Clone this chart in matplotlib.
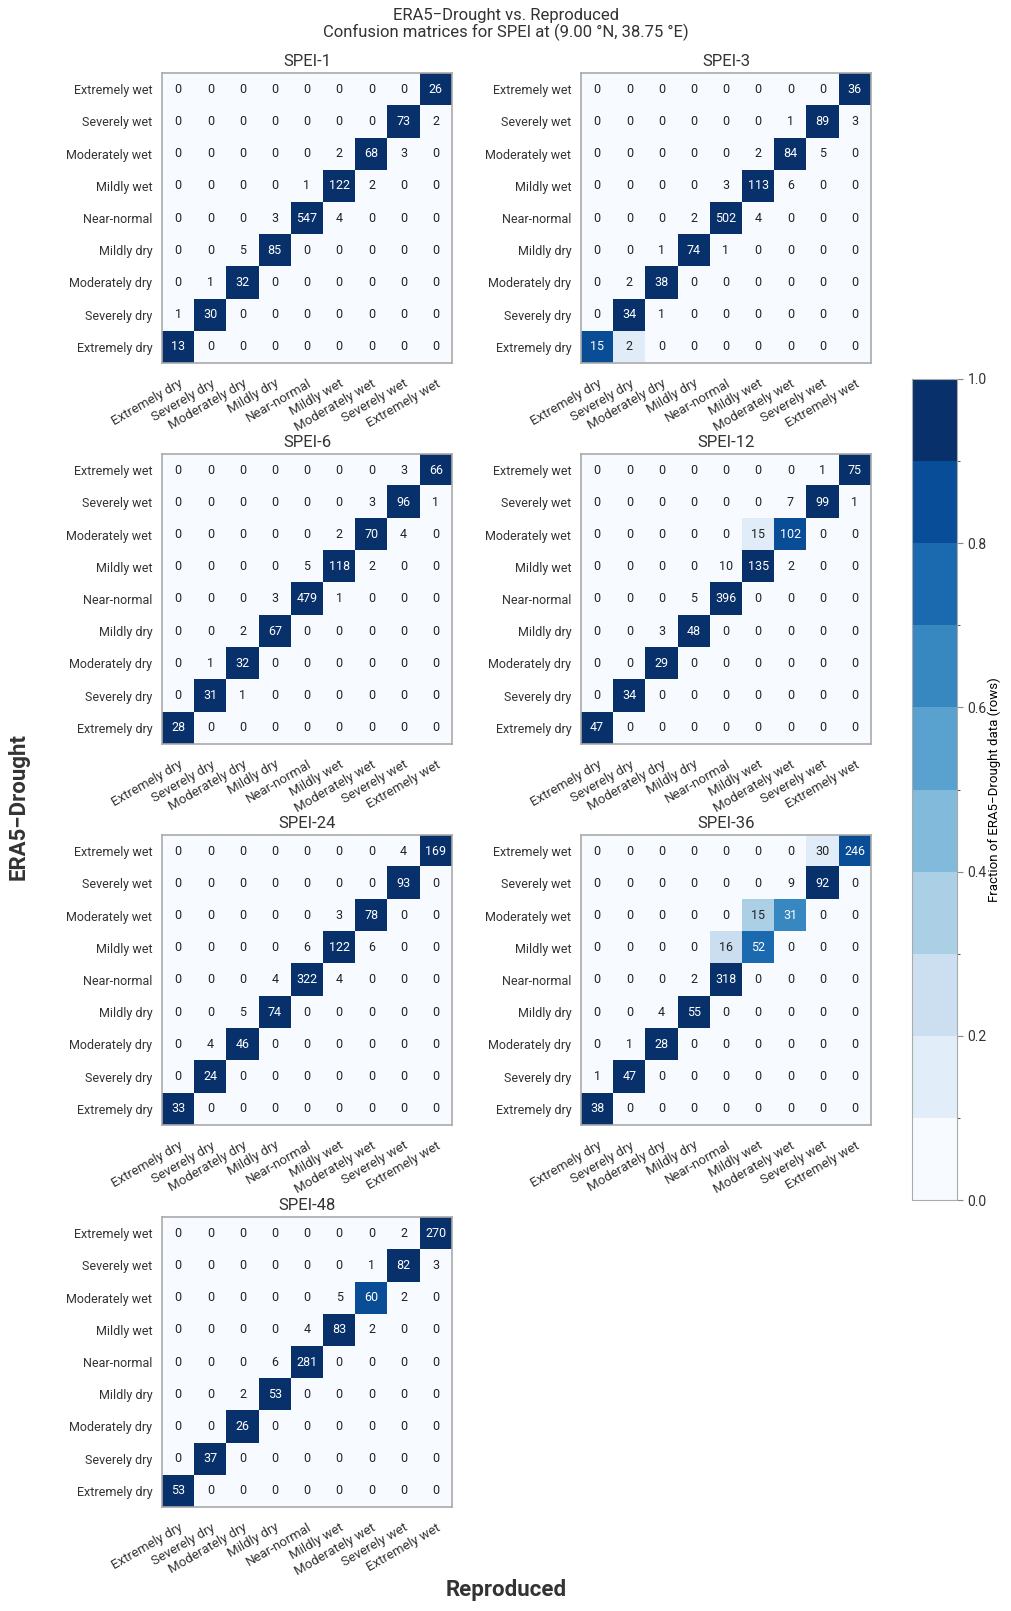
import numpy as np
import matplotlib
matplotlib.use("Agg")
import matplotlib.pyplot as plt
from matplotlib.colors import BoundaryNorm
import matplotlib.cm as cm

plt.rcParams['font.family'] = ['Roboto', 'DejaVu Sans']
plt.rcParams['text.color'] = '#333333'
plt.rcParams['xtick.color'] = '#333333'
plt.rcParams['ytick.color'] = '#333333'

categories = ["Extremely dry", "Severely dry", "Moderately dry", "Mildly dry",
              "Near-normal", "Mildly wet", "Moderately wet", "Severely wet",
              "Extremely wet"]

# rows listed top (Extremely wet) -> bottom (Extremely dry), cols Extremely dry -> Extremely wet
spei_1 = [[0, 0, 0, 0, 0, 0, 0, 0, 26],
          [0, 0, 0, 0, 0, 0, 0, 73, 2],
          [0, 0, 0, 0, 0, 2, 68, 3, 0],
          [0, 0, 0, 0, 1, 122, 2, 0, 0],
          [0, 0, 0, 3, 547, 4, 0, 0, 0],
          [0, 0, 5, 85, 0, 0, 0, 0, 0],
          [0, 1, 32, 0, 0, 0, 0, 0, 0],
          [1, 30, 0, 0, 0, 0, 0, 0, 0],
          [13, 0, 0, 0, 0, 0, 0, 0, 0]]

spei_3 = [[0, 0, 0, 0, 0, 0, 0, 0, 36],
          [0, 0, 0, 0, 0, 0, 1, 89, 3],
          [0, 0, 0, 0, 0, 2, 84, 5, 0],
          [0, 0, 0, 0, 3, 113, 6, 0, 0],
          [0, 0, 0, 2, 502, 4, 0, 0, 0],
          [0, 0, 1, 74, 1, 0, 0, 0, 0],
          [0, 2, 38, 0, 0, 0, 0, 0, 0],
          [0, 34, 1, 0, 0, 0, 0, 0, 0],
          [15, 2, 0, 0, 0, 0, 0, 0, 0]]

spei_6 = [[0, 0, 0, 0, 0, 0, 0, 3, 66],
          [0, 0, 0, 0, 0, 0, 3, 96, 1],
          [0, 0, 0, 0, 0, 2, 70, 4, 0],
          [0, 0, 0, 0, 5, 118, 2, 0, 0],
          [0, 0, 0, 3, 479, 1, 0, 0, 0],
          [0, 0, 2, 67, 0, 0, 0, 0, 0],
          [0, 1, 32, 0, 0, 0, 0, 0, 0],
          [0, 31, 1, 0, 0, 0, 0, 0, 0],
          [28, 0, 0, 0, 0, 0, 0, 0, 0]]

spei_12 = [[0, 0, 0, 0, 0, 0, 0, 1, 75],
           [0, 0, 0, 0, 0, 0, 7, 99, 1],
           [0, 0, 0, 0, 0, 15, 102, 0, 0],
           [0, 0, 0, 0, 10, 135, 2, 0, 0],
           [0, 0, 0, 5, 396, 0, 0, 0, 0],
           [0, 0, 3, 48, 0, 0, 0, 0, 0],
           [0, 0, 29, 0, 0, 0, 0, 0, 0],
           [0, 34, 0, 0, 0, 0, 0, 0, 0],
           [47, 0, 0, 0, 0, 0, 0, 0, 0]]

spei_24 = [[0, 0, 0, 0, 0, 0, 0, 4, 169],
           [0, 0, 0, 0, 0, 0, 0, 93, 0],
           [0, 0, 0, 0, 0, 3, 78, 0, 0],
           [0, 0, 0, 0, 6, 122, 6, 0, 0],
           [0, 0, 0, 4, 322, 4, 0, 0, 0],
           [0, 0, 5, 74, 0, 0, 0, 0, 0],
           [0, 4, 46, 0, 0, 0, 0, 0, 0],
           [0, 24, 0, 0, 0, 0, 0, 0, 0],
           [33, 0, 0, 0, 0, 0, 0, 0, 0]]

spei_36 = [[0, 0, 0, 0, 0, 0, 0, 30, 246],
           [0, 0, 0, 0, 0, 0, 9, 92, 0],
           [0, 0, 0, 0, 0, 15, 31, 0, 0],
           [0, 0, 0, 0, 16, 52, 0, 0, 0],
           [0, 0, 0, 2, 318, 0, 0, 0, 0],
           [0, 0, 4, 55, 0, 0, 0, 0, 0],
           [0, 1, 28, 0, 0, 0, 0, 0, 0],
           [1, 47, 0, 0, 0, 0, 0, 0, 0],
           [38, 0, 0, 0, 0, 0, 0, 0, 0]]

spei_48 = [[0, 0, 0, 0, 0, 0, 0, 2, 270],
           [0, 0, 0, 0, 0, 0, 1, 82, 3],
           [0, 0, 0, 0, 0, 5, 60, 2, 0],
           [0, 0, 0, 0, 4, 83, 2, 0, 0],
           [0, 0, 0, 6, 281, 0, 0, 0, 0],
           [0, 0, 2, 53, 0, 0, 0, 0, 0],
           [0, 0, 26, 0, 0, 0, 0, 0, 0],
           [0, 37, 0, 0, 0, 0, 0, 0, 0],
           [53, 0, 0, 0, 0, 0, 0, 0, 0]]

titulos = ["SPEI-1", "SPEI-3", "SPEI-6", "SPEI-12", "SPEI-24", "SPEI-36", "SPEI-48"]
matrizes = [spei_1, spei_3, spei_6, spei_12, spei_24, spei_36, spei_48]

W, H = 1012, 1611
fig = plt.figure(figsize=(W / 100, H / 100), dpi=100)

cmap = plt.get_cmap('Blues', 10)
norm = BoundaryNorm(np.linspace(0, 1, 11), cmap.N)

col_left = [162, 581]
row_top = [73, 454, 835, 1217]
size = 290

for k, (mat, titulo) in enumerate(zip(matrizes, titulos)):
    r, c = k // 2, k % 2
    ax = fig.add_axes([col_left[c] / W, 1 - (row_top[r] + size) / H, size / W, size / H])
    counts = np.array(mat)[::-1]  # row 0 = Extremely dry
    frac = counts / counts.sum(axis=1, keepdims=True)
    ax.imshow(frac, cmap=cmap, norm=norm, origin='lower', aspect='auto')
    for i in range(9):
        for j in range(9):
            cor = 'white' if frac[i, j] > 0.5 else '#222222'
            ax.text(j, i, str(counts[i, j]), ha='center', va='center', fontsize=9, color=cor)
    ax.set_xticks(range(9))
    ax.set_yticks(range(9))
    ax.set_xticklabels(categories, rotation=30, ha='right', rotation_mode='anchor', fontsize=9.5)
    ax.set_yticklabels(categories, fontsize=9)
    ax.tick_params(length=0, pad=7)
    ax.tick_params(axis='x', pad=10)
    for s in ax.spines.values():
        s.set_color('#aaaaaa')
        s.set_linewidth(1.2)
    ax.set_title(titulo, fontsize=12, pad=5)

# colorbar
cax = fig.add_axes([912 / W, 1 - 1200 / H, 45 / W, 821 / H])
cb = fig.colorbar(cm.ScalarMappable(norm=norm, cmap=cmap), cax=cax,
                  ticks=[0, 0.2, 0.4, 0.6, 0.8, 1.0])
cb.ax.set_yticklabels(['0.0', '0.2', '0.4', '0.6', '0.8', '1.0'], fontsize=10)
cb.outline.set_edgecolor('#aaaaaa')
cb.ax.tick_params(color='#888888', length=4)
cb.set_label('Fraction of ERA5\u2212Drought data (rows)', fontsize=9.5, labelpad=1)

fig.text(0.5, 1 - 8 / H, 'ERA5\u2212Drought vs. Reproduced\nConfusion matrices for SPEI at (9.00 °N, 38.75 °E)',
         ha='center', va='top', fontsize=12, linespacing=1.05)
fig.text(18.5 / W, 1 - 807 / H, 'ERA5\u2212Drought', rotation=90, ha='center', va='center',
         fontsize=16, fontweight='bold')
fig.text(506 / W, 1 - 1590 / H, 'Reproduced', ha='center', va='center',
         fontsize=16, fontweight='bold')

fig.savefig('out.png', dpi=100)
